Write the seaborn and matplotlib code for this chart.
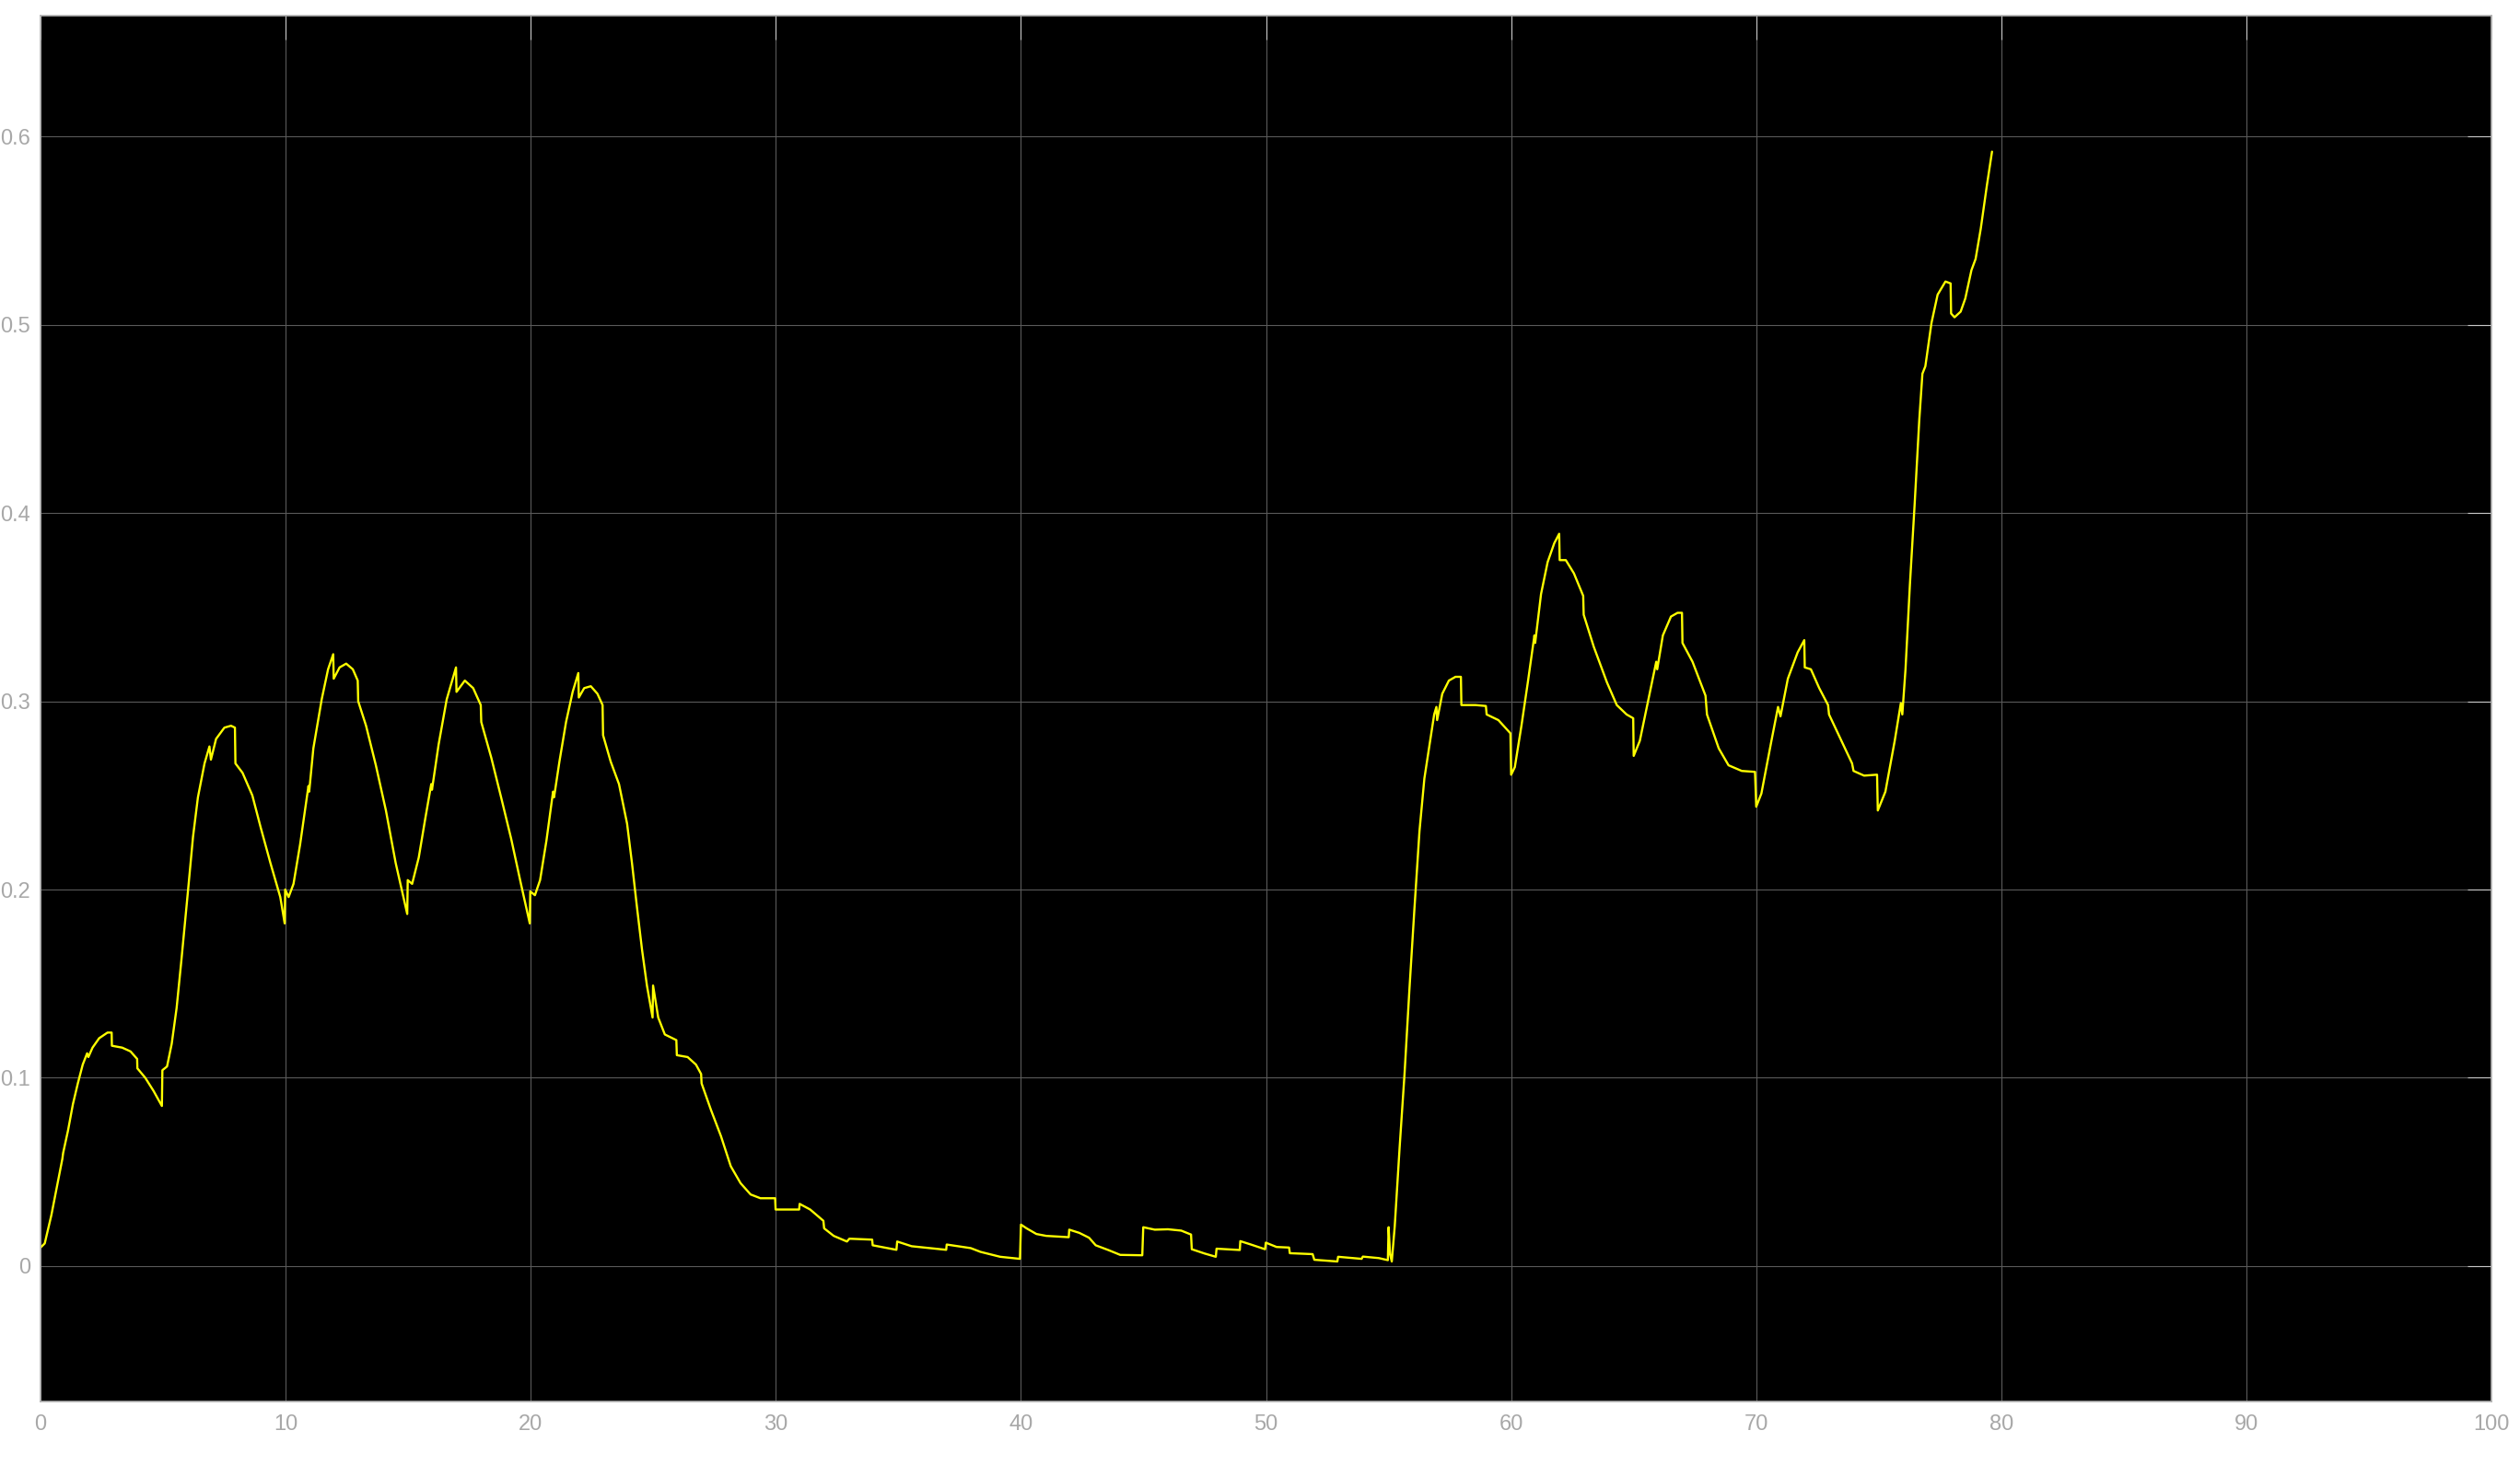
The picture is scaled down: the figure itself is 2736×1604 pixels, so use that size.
import pandas as pd
import matplotlib
matplotlib.use("Agg")
import matplotlib.pyplot as plt
import seaborn as sns

# signal (time in s, value)
time_s = [
    0.0, 0.17, 0.44, 0.65, 0.89, 0.92, 1.12, 1.32, 1.52, 1.72, 1.9, 1.95, 2.12, 2.39, 2.73, 2.9, 2.91,
    3.33, 3.67, 3.94, 3.95, 4.27, 4.61, 4.95, 4.97, 5.16, 5.35, 5.55, 5.75, 6.02, 6.22, 6.42, 6.69,
    6.89, 6.95, 7.16, 7.5, 7.77, 7.93, 7.95, 8.24, 8.64, 8.98, 9.38, 9.78, 9.96, 9.98, 10.12, 10.32,
    10.59, 10.93, 10.96, 11.13, 11.47, 11.73, 11.94, 11.96, 12.2, 12.47, 12.74, 12.94, 12.96, 13.28,
    13.68, 14.09, 14.49, 14.96, 14.98, 15.16, 15.43, 15.7, 15.94, 15.97, 16.24, 16.57, 16.95, 16.97,
    17.31, 17.65, 17.96, 17.98, 18.39, 18.79, 19.2, 19.6, 19.96, 19.98, 20.17, 20.38, 20.64, 20.91,
    20.95, 21.17, 21.44, 21.71, 21.94, 21.96, 22.18, 22.45, 22.72, 22.93, 22.95, 23.26, 23.6, 23.93,
    24.13, 24.33, 24.54, 24.74, 24.97, 24.99, 25.2, 25.47, 25.94, 25.96, 26.4, 26.74, 26.95, 26.97,
    27.35, 27.76, 28.16, 28.56, 28.97, 29.37, 29.97, 29.99, 30.95, 30.97, 31.4, 31.94, 31.97, 32.36,
    32.9, 33.0, 33.93, 33.95, 34.92, 34.95, 35.54, 36.95, 36.97, 37.95, 38.35, 39.15, 39.96, 40.0,
    40.23, 40.63, 41.03, 41.95, 41.97, 42.38, 42.78, 43.05, 43.58, 44.05, 44.95, 44.99, 45.46, 46.0,
    46.54, 46.94, 46.97, 47.5, 47.95, 47.98, 48.93, 48.95, 49.36, 49.96, 49.99, 50.43, 50.94, 50.97,
    51.9, 51.97, 52.91, 52.94, 53.9, 53.95, 54.6, 54.97, 55.0, 55.06, 55.13, 55.25, 55.45, 55.65,
    55.85, 56.05, 56.26, 56.46, 56.66, 56.86, 56.95, 56.98, 57.19, 57.46, 57.73, 57.95, 57.97, 58.54,
    58.97, 59.0, 59.48, 59.97, 60.0, 60.15, 60.42, 60.68, 60.95, 60.98, 61.22, 61.49, 61.76, 61.96,
    61.98, 62.23, 62.56, 62.94, 62.96, 63.37, 63.91, 64.31, 64.71, 64.98, 65.0, 65.25, 65.65, 65.92,
    65.96, 66.19, 66.52, 66.79, 66.97, 66.99, 67.4, 67.93, 67.99, 68.47, 68.87, 69.41, 69.95, 70.0,
    70.21, 70.62, 70.89, 70.99, 71.29, 71.69, 71.96, 71.98, 72.23, 72.57, 72.93, 72.97, 73.44, 73.91,
    73.97, 74.4, 74.93, 74.96, 75.27, 75.65, 75.9, 75.96, 76.09, 76.27, 76.46, 76.65, 76.78, 76.9,
    77.15, 77.4, 77.72, 77.93, 77.95, 78.09, 78.34, 78.53, 78.78, 78.95, 79.16, 79.41, 79.62,
]
signal = [
    0.0098, 0.012, 0.027, 0.041, 0.057, 0.060, 0.072, 0.086, 0.097, 0.107, 0.113, 0.111, 0.116, 0.121,
    0.124, 0.124, 0.117, 0.116, 0.114, 0.110, 0.105, 0.100, 0.093, 0.085, 0.104, 0.106, 0.118, 0.137,
    0.163, 0.200, 0.228, 0.249, 0.267, 0.276, 0.269, 0.280, 0.286, 0.287, 0.286, 0.267, 0.262, 0.250,
    0.233, 0.214, 0.196, 0.182, 0.200, 0.196, 0.203, 0.224, 0.255, 0.252, 0.275, 0.301, 0.317, 0.325,
    0.312, 0.318, 0.320, 0.317, 0.311, 0.300, 0.287, 0.266, 0.242, 0.214, 0.187, 0.205, 0.203, 0.217,
    0.238, 0.256, 0.253, 0.277, 0.301, 0.318, 0.305, 0.311, 0.307, 0.298, 0.289, 0.270, 0.249, 0.227,
    0.203, 0.182, 0.199, 0.197, 0.205, 0.226, 0.252, 0.249, 0.268, 0.289, 0.305, 0.315, 0.302, 0.307,
    0.308, 0.304, 0.298, 0.282, 0.268, 0.256, 0.235, 0.214, 0.191, 0.168, 0.149, 0.132, 0.149, 0.132,
    0.123, 0.120, 0.112, 0.111, 0.107, 0.102, 0.097, 0.083, 0.069, 0.053, 0.044, 0.038, 0.036, 0.036,
    0.030, 0.030, 0.033, 0.030, 0.024, 0.020, 0.016, 0.013, 0.0145, 0.014, 0.011, 0.0086, 0.013,
    0.0105, 0.0086, 0.0114, 0.0095, 0.0075, 0.0049, 0.0038, 0.022, 0.020, 0.017, 0.016, 0.0153, 0.0193,
    0.0176, 0.015, 0.011, 0.0084, 0.0059, 0.0057, 0.0206, 0.0193, 0.0195, 0.0188, 0.0167, 0.0089,
    0.0066, 0.0049, 0.0092, 0.0085, 0.0132, 0.0115, 0.0089, 0.0124, 0.0101, 0.0098, 0.0068, 0.0063,
    0.0033, 0.0024, 0.0049, 0.0038, 0.005, 0.0042, 0.0031, 0.0206, 0.0063, 0.0024, 0.021, 0.063, 0.102,
    0.147, 0.189, 0.231, 0.259, 0.276, 0.293, 0.297, 0.290, 0.304, 0.311, 0.313, 0.313, 0.298, 0.298,
    0.2975, 0.293, 0.290, 0.283, 0.261, 0.265, 0.287, 0.310, 0.335, 0.331, 0.357, 0.374, 0.384, 0.389,
    0.375, 0.375, 0.368, 0.356, 0.346, 0.329, 0.310, 0.298, 0.293, 0.291, 0.271, 0.279, 0.304, 0.321,
    0.317, 0.335, 0.345, 0.347, 0.347, 0.331, 0.321, 0.303, 0.293, 0.275, 0.266, 0.263, 0.2625, 0.244,
    0.251, 0.279, 0.297, 0.292, 0.312, 0.326, 0.3325, 0.318, 0.317, 0.307, 0.298, 0.293, 0.280, 0.267,
    0.263, 0.2605, 0.261, 0.242, 0.252, 0.279, 0.299, 0.293, 0.317, 0.362, 0.404, 0.449, 0.474, 0.478,
    0.501, 0.516, 0.523, 0.522, 0.506, 0.504, 0.507, 0.514, 0.529, 0.535, 0.551, 0.574, 0.592,
]

x_ticks = [0, 10, 20, 30, 40, 50, 60, 70, 80, 90, 100]
y_ticks = [0, 0.1, 0.2, 0.3, 0.4, 0.5, 0.6]
y_tick_labels = ["0", "0.1", "0.2", "0.3", "0.4", "0.5", "0.6"]

df = pd.DataFrame({"time": time_s, "value": signal})

sns.set_style("dark", {"axes.facecolor": "black", "grid.color": "#5a5a5a"})
plt.rcParams["font.family"] = ["Liberation Sans", "DejaVu Sans"]

fig = plt.figure(figsize=(27.36, 16.04), dpi=100)
fig.patch.set_facecolor("white")
ax = fig.add_axes([0.0161, 0.0511, 0.9726, 0.938])

sns.lineplot(data=df, x="time", y="value", sort=False, estimator=None,
             color="#ffff00", linewidth=1.7, ax=ax)

ax.set_xlim(0, 100)
ax.set_ylim(-0.072, 0.664)
ax.set_xticks(x_ticks)
ax.set_xticklabels([str(t) for t in x_ticks])
ax.set_yticks(y_ticks)
ax.set_yticklabels(y_tick_labels)
ax.set_xlabel("")
ax.set_ylabel("")

ax.grid(True, color="#5a5a5a", linewidth=0.8)
ax.set_axisbelow(True)
for s in ax.spines.values():
    s.set_visible(True)
    s.set_color("#b3b3b3")
    s.set_linewidth(1.2)

ax.tick_params(axis="both", which="major", direction="in", length=19, width=0.8,
               color="#c8c8c8", labelcolor="#a8a8a8", labelsize=17,
               top=True, right=True)
ax.tick_params(axis="x", pad=10)
ax.tick_params(axis="y", pad=8)

fig.savefig("out.png", dpi=100, facecolor="white")
plt.close(fig)
